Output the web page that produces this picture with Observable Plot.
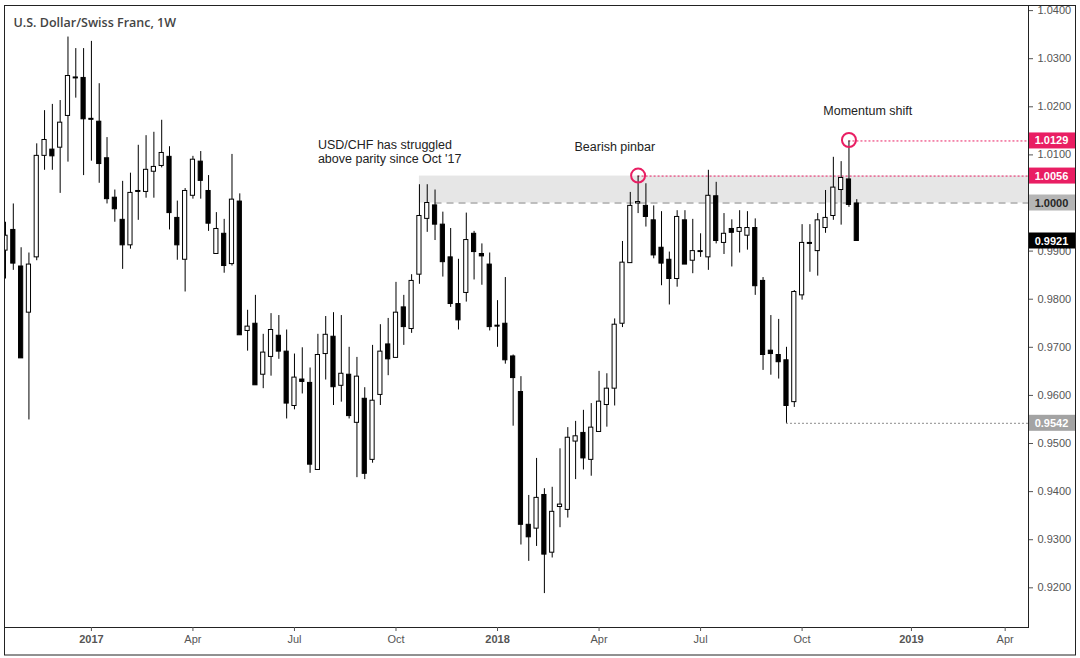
<!DOCTYPE html>
<html>
<head>
<meta charset="utf-8">
<script src="https://cdn.jsdelivr.net/npm/d3@7"></script>
<script src="https://cdn.jsdelivr.net/npm/@observablehq/plot@0.6"></script>
<style>
  html, body { margin: 0; padding: 0; background: #fff; }
  #chart svg { display: block; font-family: "Liberation Sans", Arial, sans-serif; }
</style>
</head>
<body>
<div id="chart"></div>
<script>
// ---------- data (weekly USD/CHF candles, first week starting 2016-10-17) ----------
const firstWeek = "2016-10-17";
const open = [0.9901,0.9944,0.9868,0.9772,0.9887,1.0098,1.0111,1.0115,1.0181,1.0261,
  1.0260,1.0175,1.0169,1.0093,1.0011,0.9965,0.9912,1.0025,1.0023,1.0065,
  1.0077,1.0096,0.9969,0.9882,1.0015,1.0086,1.0025,0.9894,0.9936,0.9873,
  1.0003,0.9734,0.9749,0.9643,0.9680,0.9724,0.9691,0.9578,0.9633,0.9626,
  0.9445,0.9686,0.9722,0.9620,0.9643,0.9543,0.9593,0.9466,0.9601,0.9706,
  0.9678,0.9783,0.9738,0.9851,0.9967,0.9995,0.9955,0.9887,0.9790,0.9813,
  0.9936,0.9894,0.9872,0.9745,0.9749,0.9681,0.9607,0.9331,0.9323,0.9393,
  0.9273,0.9368,0.9362,0.9504,0.9522,0.9466,0.9524,0.9580,0.9614,0.9749,
  0.9875,0.9999,0.9994,0.9964,0.9907,0.9882,0.9842,0.9964,0.9880,0.9898,
  0.9887,1.0014,0.9917,0.9946,0.9940,0.9932,0.9948,0.9838,0.9693,0.9684,
  0.9673,0.9586,0.9808,0.9917,0.9900,0.9948,0.9973,1.0027,1.0049,0.9999];
const high = [0.9960,0.9998,0.9907,0.9896,1.0123,1.0192,1.0205,1.0213,1.0345,1.0321,
  1.0321,1.0336,1.0248,1.0136,1.0027,1.0045,1.0062,1.0120,1.0140,1.0147,
  1.0172,1.0117,1.0004,1.0030,1.0097,1.0107,1.0057,0.9980,0.9966,1.0101,
  1.0019,0.9777,0.9808,0.9727,0.9770,0.9766,0.9736,0.9686,0.9699,0.9657,
  0.9727,0.9764,0.9772,0.9766,0.9700,0.9679,0.9616,0.9704,0.9747,0.9760,
  0.9835,0.9808,0.9851,1.0038,1.0038,1.0027,0.9981,0.9947,0.9883,0.9979,
  0.9941,0.9915,0.9896,0.9797,0.9845,0.9684,0.9639,0.9392,0.9469,0.9406,
  0.9409,0.9489,0.9533,0.9546,0.9569,0.9583,0.9650,0.9645,0.9759,0.9920,
  1.0022,1.0056,1.0040,0.9994,0.9982,0.9898,0.9984,0.9984,0.9966,0.9936,
  1.0068,1.0043,0.9978,0.9965,0.9984,0.9982,0.9967,0.9845,0.9766,0.9758,
  0.9700,0.9818,0.9955,0.9955,0.9978,1.0026,1.0095,1.0086,1.0129,1.0007];
const low = [0.9842,0.9860,0.9677,0.9549,0.9880,1.0068,1.0068,1.0020,1.0085,1.0218,
  1.0057,1.0087,1.0041,0.9998,0.9960,0.9862,0.9904,0.9964,1.0010,1.0010,
  1.0073,0.9944,0.9881,0.9815,1.0008,1.0008,0.9941,0.9894,0.9854,0.9869,
  0.9725,0.9692,0.9621,0.9614,0.9640,0.9675,0.9551,0.9570,0.9603,0.9438,
  0.9445,0.9632,0.9579,0.9586,0.9551,0.9429,0.9425,0.9459,0.9579,0.9641,
  0.9678,0.9704,0.9729,0.9831,0.9939,0.9922,0.9846,0.9783,0.9736,0.9794,
  0.9840,0.9829,0.9734,0.9700,0.9665,0.9536,0.9289,0.9255,0.9286,0.9188,
  0.9262,0.9325,0.9345,0.9425,0.9445,0.9432,0.9524,0.9534,0.9578,0.9741,
  0.9875,0.9978,0.9950,0.9884,0.9828,0.9788,0.9825,0.9872,0.9853,0.9887,
  0.9860,0.9915,0.9893,0.9867,0.9896,0.9902,0.9808,0.9652,0.9642,0.9634,
  0.9542,0.9575,0.9798,0.9856,0.9848,0.9937,0.9964,0.9954,0.9991,0.9921];
const close = [0.9932,0.9874,0.9677,0.9872,1.0098,1.0131,1.0097,1.0167,1.0264,1.0259,
  1.0174,1.0173,1.0081,1.0008,0.9987,0.9912,1.0021,1.0023,1.0069,1.0075,
  1.0104,0.9979,0.9912,1.0025,1.0090,1.0046,0.9957,0.9946,0.9869,1.0007,
  0.9725,0.9743,0.9621,0.9689,0.9736,0.9691,0.9583,0.9637,0.9628,0.9456,
  0.9684,0.9726,0.9617,0.9645,0.9557,0.9639,0.9437,0.9589,0.9691,0.9675,
  0.9772,0.9742,0.9838,0.9973,1.0000,0.9955,0.9877,0.9790,0.9756,0.9923,
  0.9898,0.9889,0.9742,0.9743,0.9673,0.9636,0.9331,0.9305,0.9387,0.9269,
  0.9358,0.9373,0.9512,0.9515,0.9469,0.9533,0.9587,0.9614,0.9747,0.9876,
  0.9994,1.0002,0.9971,0.9891,0.9874,0.9842,0.9971,0.9872,0.9900,0.9900,
  1.0015,0.9921,0.9936,0.9938,0.9948,0.9948,0.9827,0.9684,0.9686,0.9669,
  0.9578,0.9815,0.9917,0.9915,0.9964,0.9969,1.0032,1.0052,0.9996,0.9921];

const title = "U.S. Dollar/Swiss Franc, 1W";
const yTicks = [1.04,1.03,1.02,1.01,1.00,0.99,0.98,0.97,0.96,0.95,0.94,0.93,0.92];
const xTickDates = ["2017-01-02","2017-04-03","2017-07-03","2017-10-02","2018-01-01",
  "2018-04-02","2018-07-02","2018-10-01","2019-01-07","2019-04-01"];
const xTickLabels = ["2017","Apr","Jul","Oct","2018","Apr","Jul","Oct","2019","Apr"];

// resistance zone (from the week of 2017-10-23)
const zoneStart = "2017-10-23";
const zoneLow = 1.0000, zoneHigh = 1.0056;
const parityStart = "2017-11-06";

// level lines: price, starting week, colour
const levelPrices = [1.0056, 1.0129, 0.9542];
const levelStarts = ["2018-05-07", "2018-11-12", "2018-09-17"];
const levelColors = ["#e91e63", "#e91e63", "#8c8c8c"];

// circled highs
const circleDates = ["2018-05-07", "2018-11-12"];
const circlePrices = [1.0057, 1.0131];

// annotations
const noteTexts = ["USD/CHF has struggled\nabove parity since Oct '17", "Bearish pinbar", "Momentum shift"];
const noteDates = ["2017-07-24", "2018-03-11", "2018-10-20"];
const notePrices = [1.0107, 1.0117, 1.0192];

// price tags on the right scale
const tagPrices = [1.0129, 1.0056, 1.0000, 0.9921, 0.9542];
const tagBg = ["#e91e63", "#e91e63", "#b5b5b5", "#000000", "#a3a3a3"];
const tagFg = ["#ffffff", "#ffffff", "#262626", "#ffffff", "#ffffff"];

// ---------- build ----------
const parse = s => new Date(s + "T00:00:00Z");
const start = parse(firstWeek);
const candles = open.map((o, i) => ({
  date: d3.utcDay.offset(start, 7 * i),
  open: o, high: high[i], low: low[i], close: close[i]
}));
const xDomain = [new Date("2016-10-16T02:30:00Z"), new Date("2019-04-21T22:00:00Z")];
const yDomain = [0.91175, 1.04106];
const xEnd = xDomain[1];

const levels = levelPrices.map((p, i) => ({price: p, x1: parse(levelStarts[i]), x2: xEnd, color: levelColors[i]}));
const circles = circleDates.map((d, i) => ({date: parse(d), price: circlePrices[i]}));
const notes = noteTexts.map((t, i) => ({text: t, date: parse(noteDates[i]), price: notePrices[i]}));
const tags = tagPrices.map((p, i) => ({price: p, label: d3.format(".4f")(p), bg: tagBg[i], fg: tagFg[i]}));
const tickMap = new Map(xTickDates.map((d, i) => [+parse(d), xTickLabels[i]]));
// tick labels hidden where a price tag sits exactly on the tick
const fmt4 = d3.format(".4f");
const taggedLabels = new Set(tags.map(t => t.label));
const yTickFormat = v => taggedLabels.has(fmt4(v)) ? "" : fmt4(v);

const chart = Plot.plot({
  width: 1080,
  height: 658,
  marginLeft: 4,
  marginRight: 52,
  marginTop: 5,
  marginBottom: 31,
  x: {type: "utc", domain: xDomain},
  y: {domain: yDomain},
  style: {fontFamily: "'Liberation Sans', Arial, sans-serif", background: "#fff"},
  marks: [
    Plot.rect([{x1: parse(zoneStart), x2: xEnd, y1: zoneLow, y2: zoneHigh}],
      {x1: "x1", x2: "x2", y1: "y1", y2: "y2", fill: "#e6e6e6"}),
    Plot.ruleY([{y: 1.0, x1: parse(parityStart), x2: xEnd}],
      {y: "y", x1: "x1", x2: "x2", stroke: "#ababab", strokeWidth: 1.5, strokeDasharray: "7,5"}),
    Plot.ruleY(levels, {y: "price", x1: "x1", x2: "x2", stroke: "color", strokeWidth: 1, strokeDasharray: "2,2"}),
    Plot.ruleX(candles, {x: "date", y1: "low", y2: "high", stroke: "#000", strokeWidth: 1, clip: true}),
    Plot.rect(candles, {
      x1: d => d3.utcHour.offset(d.date, -45),
      x2: d => d3.utcHour.offset(d.date, 45),
      y1: "open", y2: "close",
      fill: d => d.close >= d.open ? "#ffffff" : "#000000",
      stroke: "#000", strokeWidth: 1, clip: true
    }),
    Plot.dot(circles, {x: "date", y: "price", r: 7, stroke: "#e91e63", strokeWidth: 2, fill: "none"}),
    Plot.text(notes, {x: "date", y: "price", text: "text", textAnchor: "start", lineAnchor: "middle",
      lineHeight: 1.12, fontSize: 12.5, fill: "#222"}),
    Plot.text([title], {frameAnchor: "top-left", dx: 9, dy: 17, lineAnchor: "middle",
      fontSize: 12.5, fontWeight: 600, fill: "#444", fontFamily: "'Open Sans', sans-serif"}),
    Plot.frame({stroke: "#222"}),
    Plot.axisY({anchor: "right", ticks: yTicks, tickFormat: yTickFormat, tickSize: 4,
      tickPadding: 5, fontSize: 11, stroke: "#555", fill: "#555"}),
    Plot.axisX({ticks: xTickDates.map(parse), tickFormat: d => tickMap.get(+d) ?? "", tickSize: 4,
      tickPadding: 4, fontSize: 11, stroke: "#555", fill: "#555"}),
    Plot.text(tags, {y: "price", text: "label", frameAnchor: "right", dx: 23, textAnchor: "middle",
      fill: "fg", fontSize: 11, fontWeight: "bold"})
  ]
});

document.getElementById("chart").appendChild(chart);

// ---------- post-processing: tag backgrounds, bold years, outer border ----------
const svg = d3.select(chart);
const yScale = chart.scale("y");
const yPix = v => yScale.apply ? yScale.apply(v)
  : yScale.range[0] + (v - yScale.domain[0]) / (yScale.domain[1] - yScale.domain[0]) * (yScale.range[1] - yScale.range[0]);
const textGroups = chart.querySelectorAll('g[aria-label="text"]');
const tagGroup = textGroups[textGroups.length - 1];
const bgGroup = document.createElementNS("http://www.w3.org/2000/svg", "g");
tagGroup.parentNode.insertBefore(bgGroup, tagGroup);
d3.select(bgGroup).selectAll("rect").data(tags).join("rect")
  .attr("x", 1029).attr("width", 46)
  .attr("y", d => yPix(d.price) - 8).attr("height", 16)
  .attr("fill", d => d.bg);

svg.selectAll('g[aria-label="x-axis tick label"] text')
  .filter(function() { return /^\d{4}$/.test(this.textContent); })
  .attr("font-weight", "bold");

svg.append("rect")
  .attr("x", 4.5).attr("y", 5.5).attr("width", 1071).attr("height", 649.5)
  .attr("fill", "none").attr("stroke", "#222");
</script>
</body>
</html>
